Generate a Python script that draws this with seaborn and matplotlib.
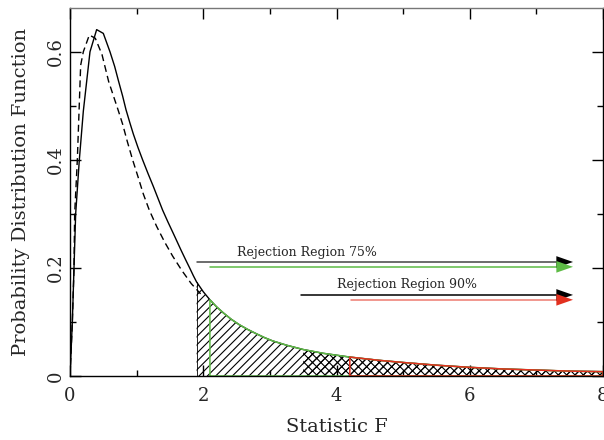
import numpy as np
import matplotlib
matplotlib.use("Agg")
import matplotlib.pyplot as plt
import seaborn as sns

# solid curve
solid_x = [0, 0.035, 0.06, 0.085, 0.14, 0.2, 0.3, 0.4, 0.5, 0.6, 0.67, 0.73, 0.79, 0.84,
           0.9, 0.95, 1.02, 1.09, 1.17, 1.25, 1.32, 1.39, 1.47, 1.55, 1.61, 1.67, 1.74,
           1.8, 1.85, 1.9, 2.0, 2.1, 2.2, 2.3, 2.42, 2.54, 2.67, 2.8, 2.92, 3.04, 3.25,
           3.5, 3.8, 4.2, 4.64, 5.0, 5.5, 6.0, 6.5, 7.0, 7.5, 8.0]
solid_y = [0, 0.10, 0.20, 0.30, 0.40, 0.49, 0.60, 0.641, 0.634, 0.60, 0.573, 0.545, 0.518, 0.493,
           0.468, 0.448, 0.423, 0.40, 0.375, 0.351, 0.329, 0.307, 0.285, 0.264, 0.248, 0.232, 0.214,
           0.199, 0.186, 0.174, 0.156, 0.141, 0.128, 0.117, 0.105, 0.095, 0.086, 0.078, 0.071, 0.065, 0.057,
           0.049, 0.042, 0.035, 0.029, 0.025, 0.020, 0.016, 0.013, 0.011, 0.009, 0.008]

# dashed curve
dashed_x = [0, 0.035, 0.06, 0.07, 0.11, 0.16, 0.2, 0.29, 0.38, 0.48, 0.58, 0.65, 0.72,
            0.79, 0.86, 0.94, 1.02, 1.1, 1.19, 1.3, 1.42, 1.54, 1.68, 1.82, 1.96]
dashed_y = [0, 0.10, 0.20, 0.30, 0.40, 0.575, 0.60, 0.631, 0.625, 0.595, 0.545, 0.519, 0.493,
            0.466, 0.434, 0.40, 0.369, 0.337, 0.307, 0.277, 0.248, 0.222, 0.195, 0.171, 0.152]

# rejection region limits
hatch_start = 1.9
cross_start = 3.5
green_start = 2.1
red_start = 4.2

# arrows: (x start, x end, y)
arrow_75_black = (1.9, 7.55, 0.211)
arrow_75_green = (2.1, 7.55, 0.202)
arrow_90_black = (3.46, 7.55, 0.150)
arrow_90_red = (4.22, 7.55, 0.141)

GREEN = "#5dbb45"
RED = "#e2301f"


def main():
    sns.set_theme(style="ticks")
    plt.rcParams["font.family"] = ["DejaVu Serif"]
    plt.rcParams["hatch.linewidth"] = 0.8

    fig = plt.figure(figsize=(6.04, 4.40), dpi=100)
    ax = fig.add_axes([70 / 604, 1 - 376 / 440, 533 / 604, 368 / 440])

    sx = np.array(solid_x)
    sy = np.array(solid_y)

    # hatched areas
    m = sx >= hatch_start
    ax.fill_between(sx[m], sy[m], 0, facecolor="none", edgecolor="black",
                    hatch="////", linewidth=0)
    m = sx >= cross_start
    ax.fill_between(sx[m], sy[m], 0, facecolor="none", edgecolor="black",
                    hatch="xxxx", linewidth=0)
    ax.plot([hatch_start, hatch_start], [0, 0.174], color="black", lw=0.6)

    sns.lineplot(x=solid_x, y=solid_y, ax=ax, color="black", lw=1.0, sort=False)
    sns.lineplot(x=dashed_x, y=dashed_y, ax=ax, color="black", lw=1.0,
                 linestyle=(0, (5, 3)), sort=False)

    # green and red outlines
    for start, col in [(green_start, GREEN), (red_start, RED)]:
        m = sx >= start
        ax.plot(np.r_[start, sx[m], 8.0, start], np.r_[0, sy[m], 0, 0],
                color=col, lw=1.1)

    # arrows
    for (x0, x1, y), shaft, head in [(arrow_75_black, "#444444", "black"),
                                     (arrow_75_green, GREEN, GREEN),
                                     (arrow_90_black, "black", "black"),
                                     (arrow_90_red, "#ee7b70", RED)]:
        ax.plot([x0, x1 - 0.15], [y, y], color=shaft, lw=1.1)
        ax.annotate("", xy=(x1, y), xytext=(x1 - 0.3, y),
                    arrowprops=dict(arrowstyle="-|>,head_length=1.0,head_width=0.35",
                                    color=head, lw=0, shrinkA=0, shrinkB=0))

    ax.text(3.55, 0.228, "Rejection Region 75%", ha="center", va="center",
            fontsize=9)
    ax.text(5.06, 0.170, "Rejection Region 90%", ha="center", va="center",
            fontsize=9)

    ax.set_xlim(0, 8)
    ax.set_ylim(0, 0.681)
    ax.set_xticks([0, 2, 4, 6, 8])
    ax.set_xticklabels(["0", "2", "4", "6", "8"])
    ax.set_xticks([1, 3, 5, 7], minor=True)
    ax.set_yticks([0, 0.2, 0.4, 0.6])
    ax.set_yticklabels(["0", "0.2", "0.4", "0.6"], rotation=90, va="center")
    ax.set_yticks([0.1, 0.3, 0.5], minor=True)
    ax.tick_params(which="major", direction="in", top=True, right=True,
                   length=8, width=1, labelsize=13, color="black")
    ax.tick_params(which="minor", direction="in", top=True, right=True,
                   length=4, width=1, color="black")
    ax.tick_params(axis="x", pad=8)
    for sp in ax.spines.values():
        sp.set_color("black")
        sp.set_linewidth(1.0)
    ax.spines["top"].set_color("#777777")

    ax.set_xlabel("Statistic F", fontsize=14, labelpad=9)
    ax.set_ylabel("Probability Distribution Function", fontsize=14, labelpad=12)

    fig.savefig("out.png", dpi=100)
    plt.close(fig)


if __name__ == "__main__":
    main()
